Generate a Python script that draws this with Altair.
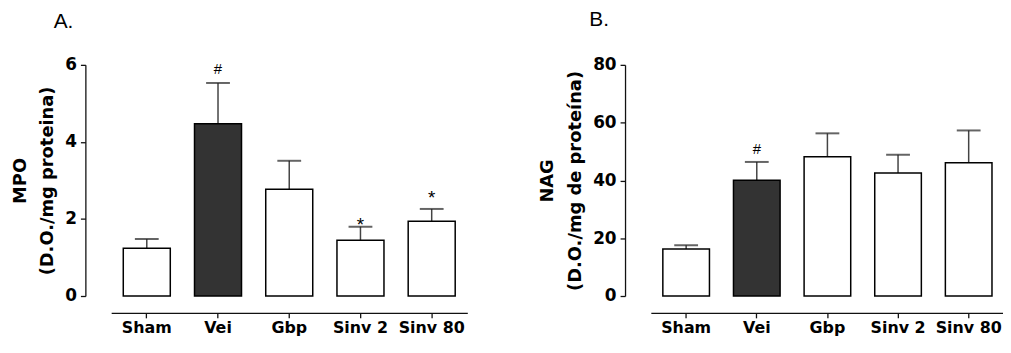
import altair as alt
import pandas as pd

cats = ["Sham", "Vei", "Gbp", "Sinv 2", "Sinv 80"]

mpo_mean = [1.24, 4.47, 2.77, 1.45, 1.94]
mpo_sem = [0.24, 1.06, 0.74, 0.35, 0.32]
mpo_sig_cats = ["Vei", "Sinv 2", "Sinv 80"]
mpo_sig_text = ["#", "*", "*"]
mpo_sig_y = [5.75, 1.70, 2.38]
mpo_ticks = [0, 2, 4, 6]

nag_mean = [16.3, 40.1, 48.2, 42.6, 46.1]
nag_sem = [1.3, 6.3, 8.1, 6.3, 11.2]
nag_sig_cats = ["Vei"]
nag_sig_text = ["#"]
nag_sig_y = [49.0]
nag_ticks = [0, 20, 40, 60, 80]

AXFONT = "DejaVu Sans"


def panel(means, sems, sig_cats, sig_text, sig_y, ymax, yticks, ytitle,
          letter, width, title_dx, title_offset):
    df = pd.DataFrame({
        "cat": cats,
        "mean": means,
        "top": [m + s for m, s in zip(means, sems)],
    })
    sdf = pd.DataFrame({"cat": sig_cats, "t": sig_text, "sy": sig_y})

    xenc = alt.X(
        "cat:N", sort=cats,
        scale=alt.Scale(domain=cats, paddingInner=0.34, paddingOuter=0.17),
        axis=alt.Axis(title=None, labelAngle=0, offset=17, tickSize=5,
                      labelPadding=2, domainColor="#111", tickColor="#111",
                      domainWidth=1.3, tickWidth=1.3,
                      labelFont=AXFONT, labelFontWeight="bold",
                      labelFontSize=16, labelColor="black", grid=False),
    )

    def yenc(field):
        return alt.Y(
            field,
            scale=alt.Scale(domain=[0, ymax], nice=False, zero=True),
            axis=alt.Axis(values=yticks, title=ytitle, offset=26, tickSize=5,
                          grid=False, domainColor="#111", tickColor="#111",
                          domainWidth=1.3, tickWidth=1.3,
                          labelFont=AXFONT, labelFontWeight="bold",
                          labelFontSize=17, labelColor="black", labelPadding=4,
                          titleFont=AXFONT, titleFontWeight="bold",
                          titleFontSize=18, titleColor="black",
                          titleLineHeight=28, titlePadding=8),
        )

    base = alt.Chart(df)
    bars = base.mark_bar(stroke="black", strokeWidth=1.5).encode(
        x=xenc,
        y=yenc("mean:Q"),
        fill=alt.condition(alt.datum.cat == "Vei", alt.value("#333333"),
                           alt.value("white")),
    )
    rule = base.mark_rule(color="#444444", strokeWidth=1.5).encode(
        x=xenc, y=yenc("mean:Q"), y2="top:Q"
    )
    cap = base.mark_tick(orient="horizontal", size=24, thickness=2,
                         color="#222222").encode(x=xenc, y=yenc("top:Q"))
    sig = alt.Chart(sdf)
    hashes = sig.transform_filter(alt.datum.t == "#").mark_text(
        font="Liberation Sans", fontSize=15, baseline="alphabetic",
        color="black"
    ).encode(x=xenc, y=yenc("sy:Q"), text="t:N")
    stars = sig.transform_filter(alt.datum.t == "*").mark_text(
        font="Liberation Sans", fontSize=19, baseline="alphabetic",
        color="black"
    ).encode(x=xenc, y=yenc("sy:Q"), text="t:N")

    return alt.layer(rule, cap, bars, hashes, stars).properties(
        width=width, height=233,
        title=alt.TitleParams(letter, anchor="start", frame="group",
                              dx=title_dx, offset=title_offset,
                              font="Liberation Sans", fontSize=21,
                              fontWeight="normal", color="black",
                              baseline="alphabetic"),
    )


pa = panel(mpo_mean, mpo_sem, mpo_sig_cats, mpo_sig_text, mpo_sig_y, 6,
           mpo_ticks, ["MPO", "(D.O./mg proteina)"], "A.", 359, -58, 7)
pb = panel(nag_mean, nag_sem, nag_sig_cats, nag_sig_text, nag_sig_y, 80,
           nag_ticks, ["NAG", "(D.O./mg de proteína)"], "B.", 356, -62, 9)

chart = alt.hconcat(pa, pb, spacing=72).properties(
    padding={"left": 3, "top": 0, "right": -1, "bottom": 0},
    background="white",
).configure_view(stroke=None)

chart.save("out.html", embed_options={"renderer": "svg", "actions": False})
